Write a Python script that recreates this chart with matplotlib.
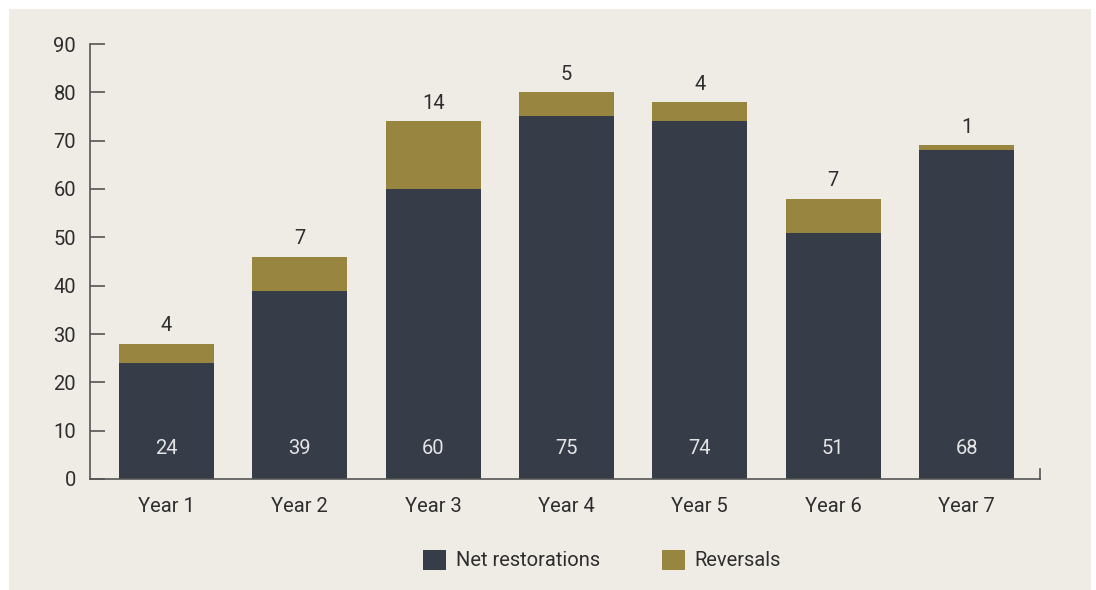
import matplotlib.pyplot as plt
from matplotlib.patches import Rectangle
import numpy as np

years = ["Year 1", "Year 2", "Year 3", "Year 4", "Year 5", "Year 6", "Year 7"]
net_restorations = [24, 39, 60, 75, 74, 51, 68]
reversals = [4, 7, 14, 5, 4, 7, 1]
y_ticks = [0, 10, 20, 30, 40, 50, 60, 70, 80, 90]

dark = "#363d49"
gold = "#988540"
panel = "#efece6"
ink = "#2e2e2e"
fs = 14.5

plt.rcParams["font.family"] = ["Roboto", "DejaVu Sans"]

W, H = 1096, 590
fig = plt.figure(figsize=(W / 100, H / 100), dpi=100, facecolor="white")
fig.patches.append(Rectangle((9 / W, 0), 1082 / W, 581 / H, transform=fig.transFigure,
                             facecolor=panel, edgecolor="none", zorder=-10))

ax = fig.add_axes([90 / W, 111 / H, 950 / W, 435 / H])
ax.set_facecolor("none")

x = np.arange(len(years))
width = 0.7125
ax.bar(x, net_restorations, width, color=dark, label="Net restorations", zorder=2)
ax.bar(x, reversals, width, bottom=net_restorations, color=gold, label="Reversals", zorder=2)

for xi, n, r in zip(x, net_restorations, reversals):
    ax.annotate(str(n), (xi, 0), xytext=(0, 22), textcoords="offset points",
                ha="center", va="center", color="#e4e4e4", fontsize=fs)
    ax.annotate(str(r), (xi, n + r), xytext=(0, 6), textcoords="offset points",
                ha="center", va="bottom", color=ink, fontsize=fs)

ax.set_xlim(-0.574, 6.551)
ax.set_ylim(0, 90)
ax.set_yticks(y_ticks)
ax.set_xticks(x)
ax.set_xticklabels(years)

for side in ["top", "right"]:
    ax.spines[side].set_visible(False)
for side in ["left", "bottom"]:
    ax.spines[side].set_color("#555555")
    ax.spines[side].set_linewidth(1.2)

ax.tick_params(axis="y", direction="in", length=11, width=1.2, color="#555555",
               pad=10, labelsize=fs, labelcolor=ink)
ax.tick_params(axis="x", length=0, pad=13, labelsize=fs, labelcolor=ink)

# small end tick on the right of the baseline
ax.axvline(ax.get_xlim()[1], ymin=0, ymax=10 / 435, color="#555555", lw=1.2, clip_on=False)

fig.legend(loc="center", bbox_to_anchor=(602 / W, 30 / H), ncol=2, frameon=False,
           fontsize=fs, handlelength=1.15, handleheight=1.15, handletextpad=0.45,
           columnspacing=3.1, labelcolor=ink)

fig.savefig("out.png", dpi=100, facecolor=fig.get_facecolor())
